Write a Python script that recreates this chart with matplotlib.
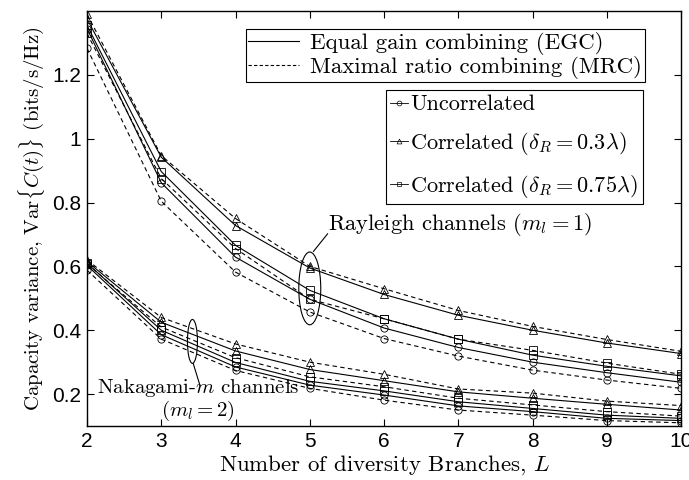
import matplotlib
matplotlib.use('Agg')
import matplotlib.pyplot as plt
from matplotlib.lines import Line2D
from matplotlib.patches import Ellipse

plt.rcParams['font.family'] = 'serif'
plt.rcParams['font.serif'] = ['cmr10', 'DejaVu Serif']
plt.rcParams['mathtext.fontset'] = 'cm'
plt.rcParams['axes.formatter.use_mathtext'] = True
plt.rcParams['axes.unicode_minus'] = False

L = [2, 3, 4, 5, 6, 7, 8, 9, 10]

# Rayleigh channels (m_l = 1)
ray_unc_egc = [1.345, 0.862, 0.629, 0.497, 0.407, 0.346, 0.300, 0.267, 0.237]
ray_unc_mrc = [1.283, 0.804, 0.582, 0.457, 0.374, 0.319, 0.275, 0.244, 0.218]
ray_c03_egc = [1.375, 0.942, 0.728, 0.595, 0.512, 0.447, 0.400, 0.360, 0.327]
ray_c03_mrc = [1.390, 0.947, 0.750, 0.600, 0.530, 0.462, 0.412, 0.371, 0.334]
ray_c075_egc = [1.355, 0.897, 0.666, 0.525, 0.436, 0.372, 0.322, 0.287, 0.257]
ray_c075_mrc = [1.330, 0.875, 0.656, 0.497, 0.436, 0.372, 0.337, 0.297, 0.262]

# Nakagami-m channels (m_l = 2)
nak_unc_egc = [0.603, 0.386, 0.285, 0.228, 0.197, 0.163, 0.145, 0.124, 0.117]
nak_unc_mrc = [0.588, 0.372, 0.274, 0.218, 0.181, 0.150, 0.134, 0.117, 0.110]
nak_c03_egc = [0.615, 0.425, 0.335, 0.277, 0.242, 0.207, 0.187, 0.168, 0.150]
nak_c03_mrc = [0.620, 0.440, 0.357, 0.300, 0.262, 0.216, 0.203, 0.178, 0.164]
nak_c075_egc = [0.610, 0.400, 0.299, 0.240, 0.210, 0.176, 0.155, 0.134, 0.124]
nak_c075_mrc = [0.608, 0.410, 0.314, 0.254, 0.223, 0.187, 0.166, 0.145, 0.131]

series = [
    (ray_unc_egc, '-', 'o'), (ray_unc_mrc, '--', 'o'),
    (ray_c03_egc, '-', '^'), (ray_c03_mrc, '--', '^'),
    (ray_c075_egc, '-', 's'), (ray_c075_mrc, '--', 's'),
    (nak_unc_egc, '-', 'o'), (nak_unc_mrc, '--', 'o'),
    (nak_c03_egc, '-', '^'), (nak_c03_mrc, '--', '^'),
    (nak_c075_egc, '-', 's'), (nak_c075_mrc, '--', 's'),
]

fig = plt.figure(figsize=(6.89, 4.80), dpi=100)
ax = fig.add_axes([0.1263, 0.1125, 0.8621, 0.8646])

for vals, ls, mk in series:
    ms = 6 if mk == '^' else 5.2
    ax.plot(L, vals, linestyle=ls, marker=mk, color='k', lw=0.8,
            ms=ms, mfc='none', mew=0.6,
            dashes=(4, 3) if ls == '--' else (None, None))

ax.set_xlim(2, 10)
ax.set_ylim(0.1, 1.4)
ax.set_xticks(L)
ax.set_yticks([0.2, 0.4, 0.6, 0.8, 1.0, 1.2])
ax.set_yticklabels(['0.2', '0.4', '0.6', '0.8', '1', '1.2'])
ax.set_xticklabels([str(v) for v in L])
for lab in ax.get_xticklabels() + ax.get_yticklabels():
    lab.set_fontfamily('Liberation Sans')
    lab.set_fontsize(15)
ax.tick_params(direction='in', top=True, right=True, length=5, width=0.8, pad=4)
for sp in ax.spines.values():
    sp.set_linewidth(1.0)

ax.set_xlabel('Number of diversity Branches, $L$', fontsize=16.5, labelpad=2)
ax.set_ylabel(r'Capacity variance, Var$\{C(t)\}$ (bits/s/Hz)', fontsize=15, labelpad=4)

# legends
h1 = [Line2D([], [], color='k', lw=0.8),
      Line2D([], [], color='k', lw=0.8, ls='--', dashes=(3, 2))]
leg1 = ax.legend(h1, ['Equal gain combining (EGC)', 'Maximal ratio combining (MRC)'],
                 loc='upper right', bbox_to_anchor=(0.939, 0.9566), borderaxespad=0,
                 fontsize=16.5, fancybox=False, framealpha=1, edgecolor='k',
                 handlelength=2.2, handletextpad=0.5, labelspacing=0.05,
                 borderpad=0.12)
leg1.get_frame().set_linewidth(0.8)
ax.add_artist(leg1)

h2 = [Line2D([], [], color='k', lw=0.6, marker=m, ms=3.5, mfc='none', mew=0.5)
      for m in ['o', '^', 's']]
leg2 = ax.legend(h2, ['Uncorrelated', r'Correlated ($\delta_R = 0.3\lambda$)',
                      r'Correlated ($\delta_R = 0.75\lambda$)'],
                 loc='upper right', bbox_to_anchor=(0.936, 0.8096), borderaxespad=0,
                 fontsize=16, fancybox=False, framealpha=1, edgecolor='k',
                 handlelength=0.8, handletextpad=0.1, labelspacing=0.7,
                 borderpad=0.22)
leg2.get_frame().set_linewidth(0.8)

# annotations
ax.add_patch(Ellipse((5.0, 0.531), 0.296, 0.228, fill=False, ec='k', lw=0.8))
ax.plot([5.05, 5.24], [0.647, 0.702], color='k', lw=0.8)
ax.text(5.24, 0.73, r'Rayleigh channels ($m_l = 1$)', fontsize=16.2,
        ha='left', va='center')

ax.add_patch(Ellipse((3.42, 0.365), 0.135, 0.1375, fill=False, ec='k', lw=0.8))
ax.plot([3.43, 3.52], [0.296, 0.228], color='k', lw=0.8)
ax.text(3.5, 0.182, 'Nakagami-$m$ channels\n($m_l = 2$)', fontsize=15,
        ha='center', va='center', linespacing=1.0)

fig.savefig('out.png', dpi=100)
